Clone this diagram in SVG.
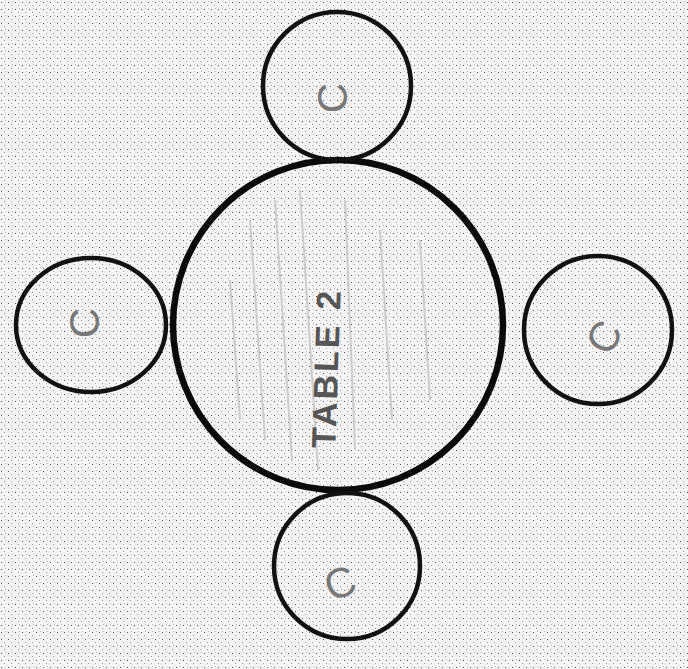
<svg xmlns="http://www.w3.org/2000/svg" width="688" height="669" viewBox="0 0 688 669">
<defs>
<pattern id="stip" width="7" height="7" patternUnits="userSpaceOnUse">
<rect width="7" height="7" fill="#f4f4f4"/>
<rect x="1" y="2" width="1" height="1" fill="#555"/>
<rect x="4" y="5" width="1" height="1" fill="#999"/>
<rect x="5" y="1" width="1" height="1" fill="#bbb"/>
</pattern>
<style>
.chair{fill:none;stroke:#111;stroke-width:4.5}
.table{fill:none;stroke:#0a0a0a;stroke-width:6.5}
.clabel{font-family:"Liberation Sans",Arial,sans-serif;font-size:42px;fill:#777;text-anchor:middle;dominant-baseline:central}
.tlabel{font-family:"Liberation Sans",Arial,sans-serif;font-size:34px;font-weight:bold;fill:#555;text-anchor:middle;dominant-baseline:central;letter-spacing:3px}
.shade{stroke:#ccc;stroke-width:2;fill:none}
</style>
</defs>
<rect width="688" height="669" fill="url(#stip)"/>
<g id="table">
<g class="shade">
<path d="M250 220 L265 440"/><path d="M275 200 L292 460"/><path d="M300 190 L318 470"/><path d="M345 200 L355 450"/><path d="M380 230 L392 420"/><path d="M420 240 L430 400"/><path d="M230 280 L240 420"/>
</g>
<circle class="table" cx="338" cy="325" r="165"/>
<text class="tlabel" transform="translate(326,368) rotate(-88)">TABLE 2</text>
</g>
<g id="chair-top">
<circle class="chair" cx="337" cy="86" r="74"/>
<text class="clabel" transform="translate(332,98) rotate(-90)">C</text>
</g>
<g id="chair-left">
<ellipse class="chair" cx="91" cy="325" rx="75" ry="67"/>
<text class="clabel" transform="translate(84,323) rotate(-90)">C</text>
</g>
<g id="chair-right">
<circle class="chair" cx="598" cy="330" r="74"/>
<text class="clabel" transform="translate(604,337) rotate(-60)">C</text>
</g>
<g id="chair-bottom">
<circle class="chair" cx="347" cy="566" r="73"/>
<text class="clabel" transform="translate(340,583) rotate(-20)">C</text>
</g>
</svg>
